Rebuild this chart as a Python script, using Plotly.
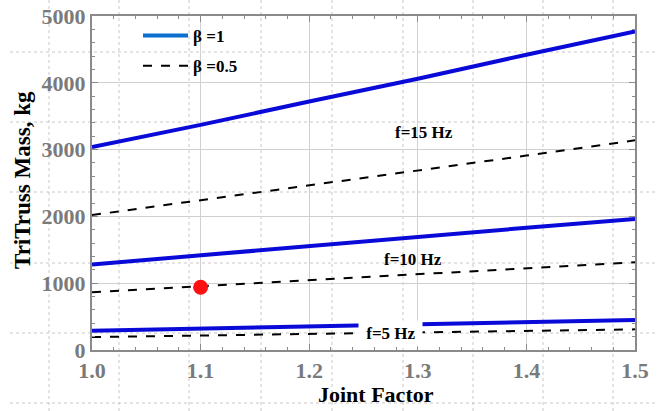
import plotly.graph_objects as go

joint_factor = [1.0, 1.1, 1.2, 1.3, 1.4, 1.5]

mass_b1_f15 = [3040, 3370, 3720, 4060, 4420, 4770]
mass_b05_f15 = [2020, 2240, 2460, 2690, 2910, 3140]
mass_b1_f10 = [1280, 1420, 1560, 1700, 1830, 1960]
mass_b05_f10 = [866, 955, 1045, 1135, 1225, 1313]
mass_b1_f5 = [288, 320, 352, 384, 416, 448]
mass_b05_f5 = [194, 217, 240, 263, 286, 309]

design_point_x = [1.1]
design_point_y = [940]

legend_labels = ["\u03b2 =1", "\u03b2 =0.5"]
freq_labels = ["f=15 Hz", "f=10 Hz", "f=5 Hz"]
freq_label_x = [1.306, 1.296, 1.275]
freq_label_y = [3263, 1362, 254]

x_ticks = [1.0, 1.1, 1.2, 1.3, 1.4, 1.5]
x_ticktext = ["1.0", "1.1", "1.2", "1.3", "1.4", "1.5"]
y_ticks = [0, 1000, 2000, 3000, 4000, 5000]

BLUE = "#0a0ad8"
SERIF = "Liberation Serif, Times New Roman, serif"

fig = go.Figure()

for ys in [mass_b1_f15, mass_b1_f10, mass_b1_f5]:
    fig.add_trace(go.Scatter(x=joint_factor, y=ys, mode="lines",
                             line=dict(color=BLUE, width=4), showlegend=False,
                             hoverinfo="skip"))
for ys in [mass_b05_f15, mass_b05_f10, mass_b05_f5]:
    fig.add_trace(go.Scatter(x=joint_factor, y=ys, mode="lines",
                             line=dict(color="black", width=2, dash="dash"),
                             showlegend=False, hoverinfo="skip"))

# legend entries
fig.add_trace(go.Scatter(x=[None], y=[None], mode="lines", name="<b>%s</b>" % legend_labels[0],
                         legendgroup="a", line=dict(color="#0b6fd0", width=4)))
fig.add_trace(go.Scatter(x=[None], y=[None], mode="lines", name="<b>%s</b>" % legend_labels[1],
                         legendgroup="b", line=dict(color="black", width=2, dash="dash")))

fig.add_trace(go.Scatter(x=design_point_x, y=design_point_y, mode="markers",
                         marker=dict(color="#ff1010", size=15), showlegend=False))

for i, (t, xx, yy) in enumerate(zip(freq_labels, freq_label_x, freq_label_y)):
    kw = {}
    txt = "<b>%s</b>" % t
    if i == 2:
        kw = dict(bgcolor="white", borderpad=3)
        txt = "&nbsp;<b>%s</b>&nbsp;" % t
    fig.add_annotation(x=xx, y=yy, text=txt, showarrow=False, xanchor="center", yanchor="middle",
                       font=dict(family=SERIF, size=17, color="black"), **kw)

# background dotted page grid (decoration)
L, R, T, B = 92, 635, 16, 350
W, H = R - L, B - T
for px in [49, 119, 189, 261, 332, 403, 473, 543, 613]:
    fig.add_shape(type="line", xref="paper", yref="paper",
                  x0=(px - L) / W, x1=(px - L) / W, y0=(B - 411) / H, y1=(B - 0) / H,
                  line=dict(color="#c8c8c8", width=1, dash="dot"), layer="below")
for py in [52, 122, 192, 263, 333, 403]:
    fig.add_shape(type="line", xref="paper", yref="paper",
                  x0=(10 - L) / W, x1=(655 - L) / W, y0=(B - py) / H, y1=(B - py) / H,
                  line=dict(color="#c8c8c8", width=1, dash="dot"), layer="below")

axis_common = dict(
    showline=True, linecolor="#8a8a8a", linewidth=2, mirror="allticks",
    ticks="inside", tickcolor="#8a8a8a", ticklen=6, automargin=False,
    showgrid=True, gridcolor="#d0d0d0", gridwidth=1, zeroline=False,
    tickfont=dict(family=SERIF, size=22, color="#7a7a7a"),
)

fig.update_xaxes(range=[1.0, 1.5], tickvals=x_ticks, ticktext=["<b>%s</b>" % t for t in x_ticktext],
                 minor=dict(ticks="inside", dtick=0.02, ticklen=3, tickcolor="#8a8a8a"),
                 **axis_common)
fig.update_yaxes(range=[0, 5000], tickvals=y_ticks, ticktext=["<b>%d</b>" % v for v in y_ticks],
                 minor=dict(ticks="inside", dtick=200, ticklen=3, tickcolor="#8a8a8a"),
                 **axis_common)

# axis titles
fig.add_annotation(xref="paper", yref="paper", x=(376 - L) / W, y=(B - 394) / H,
                   xanchor="center", yanchor="middle",
                   text="<b>Joint Factor</b>", showarrow=False,
                   font=dict(family=SERIF, size=22, color="black"))
fig.add_annotation(xref="paper", yref="paper", x=(22 - L) / W, y=(B - 180) / H,
                   xanchor="center", yanchor="middle",
                   text="<b>TriTruss Mass, kg</b>", showarrow=False, textangle=-90,
                   font=dict(family=SERIF, size=23, color="black"))

fig.update_layout(
    width=661, height=411,
    margin=dict(l=L, r=661 - R, t=T, b=411 - B),
    plot_bgcolor="white", paper_bgcolor="white",
    showlegend=True,
    legend=dict(x=(138 - L) / W, y=(B - 18) / H, xanchor="left", yanchor="top",
                bgcolor="rgba(0,0,0,0)", itemwidth=45,
                font=dict(family=SERIF, size=17, color="black"), tracegroupgap=5),
)

fig.write_html("out.html", config={"displayModeBar": False},
               post_script="document.body.style.margin='0';document.body.style.padding='0';")
